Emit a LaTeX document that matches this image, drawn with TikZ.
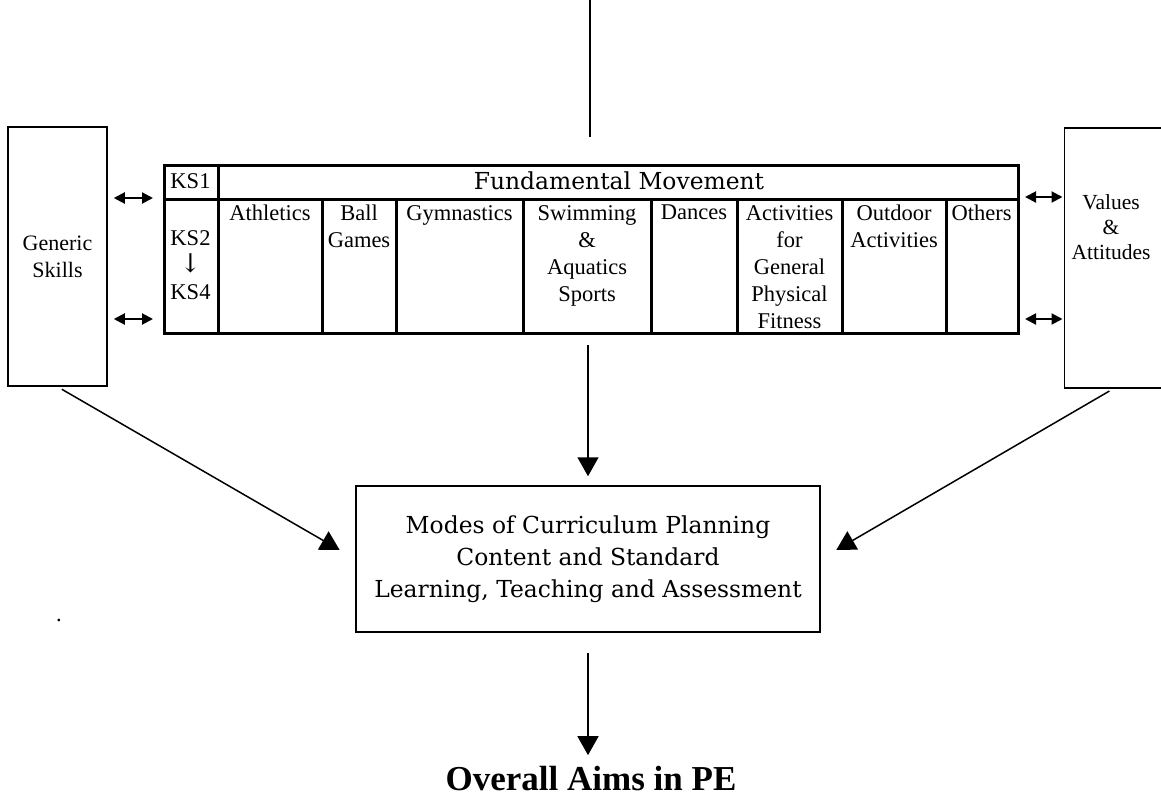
\documentclass[tikz,border=0pt]{standalone}
\usepackage{fontspec}
\setmainfont{Liberation Serif}
\newfontfamily\headfont{DejaVu Serif}
\usetikzlibrary{arrows.meta,positioning}
\tikzstyle{bx}=[draw=black,line width=1.5pt,align=center,inner sep=2pt]
\tikzstyle{tl}=[line width=3pt]
\tikzstyle{cl}=[align=center,inner sep=1pt,anchor=north]
\tikzstyle{big}=[line width=1.5pt,-{Triangle[length=19pt,width=21pt]}]
\tikzstyle{dbl}=[line width=2pt,{Triangle[length=11pt,width=11pt]}-{Triangle[length=11pt,width=11pt]}]

\begin{document}
\begin{tikzpicture}[x=1pt,y=-1pt,font=\fontsize{22.5}{27}\selectfont]
\useasboundingbox (0,0) rectangle (1161,798);
\coordinate (src) at (590,0);
\draw[line width=1.5pt] (src) -- ++(0,137);
\node[bx,minimum width=99pt,minimum height=259pt,font=\fontsize{22}{27}\selectfont] (gen) at (57.5,256.5) {Generic\\Skills};
\node[bx,minimum width=99pt,minimum height=260pt,anchor=north west] (val) at (1063.5,127) {};
\node[align=center,font=\fontsize{21.5}{25}\selectfont] (valtx) at (1111,227) {Values\\\&\\Attitudes};
\node[draw,tl,minimum width=854pt,minimum height=168pt,anchor=north west,inner sep=0pt] (tbl) at (163,164) {};
\draw[tl] (163,199) -- (1017,199);
\draw[tl] (218,164) -- (218,332);
\foreach \x in {322,396,523,651,737,842,946} \draw[tl] (\x,199) -- (\x,332);
\node[] (ks1) at (190.5,181) {KS1};
\node[align=center] (ks) at (190.5,265.5) {KS2\\{\headfont\fontsize{26}{27}\selectfont↓}\\KS4};
\node[] (fm) at (619,181) {\headfont\fontsize{23.4}{27}\selectfont Fundamental Movement};
\foreach \a/\b/\t in {218/322/Athletics,322/396/{Ball\\Games},396/523/Gymnastics,523/651/{Swimming\\\&\\Aquatics\\Sports},651/737/Dances,737/842/{Activities\\for\\General\\Physical\\Fitness},842/946/{Outdoor\\Activities},946/1017/Others}
  \node[cl] (c\a) at ({(\a+\b)/2},204) {\t};
\node[bx,minimum width=464pt,minimum height=146pt,font=\headfont\fontsize{23.4}{32}\selectfont] (modes) at (588,559) {Modes of Curriculum Planning\\Content and Standard\\Learning, Teaching and Assessment};
\node[anchor=base,font=\bfseries\fontsize{35}{40}\selectfont] (aims) at (591,790) {Overall Aims in PE};
\node[anchor=base] (dot) at (59,621.5) {.};
\draw[dbl,shorten <=6pt,shorten >=10pt] (gen.east |- 0,198) -- (tbl.west |- 0,198);
\draw[dbl,shorten <=6pt,shorten >=10pt] (gen.east |- 0,319) -- (tbl.west |- 0,319);
\draw[dbl,shorten <=5pt,shorten >=1pt] (tbl.east |- 0,197) -- (val.west |- 0,197);
\draw[dbl,shorten <=5pt,shorten >=1pt] (tbl.east |- 0,319) -- (val.west |- 0,319);
\draw[big,shorten <=10pt,shorten >=9pt] (modes.north |- tbl.south) -- (modes.north);
\draw[big,shorten <=5pt,shorten >=18pt] (gen.south) -- (modes.west);
\draw[big,shorten <=5pt,shorten >=18pt] (val.south) -- (modes.east);
\draw[big,shorten <=20pt,shorten >=7pt] (modes.south) -- (modes.south |- aims.north);
\end{tikzpicture}
\end{document}
